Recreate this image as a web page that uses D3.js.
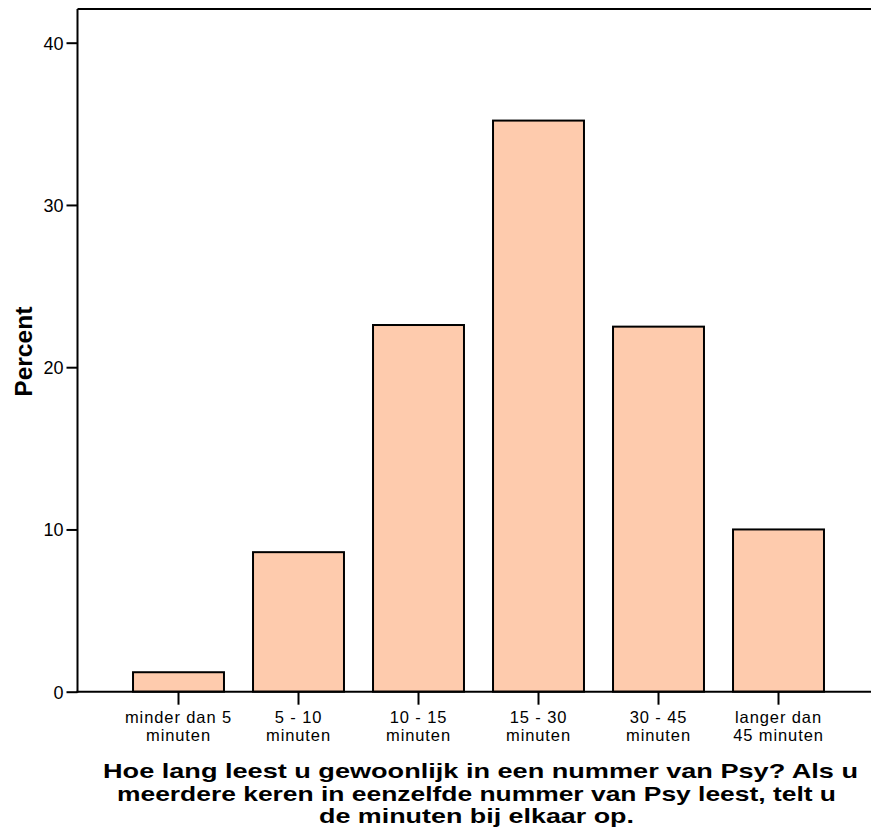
<!DOCTYPE html>
<html><head><meta charset="utf-8">
<script src="https://cdn.jsdelivr.net/npm/d3@7"></script>
<style>body{margin:0;background:#fff}</style>
</head><body>
<svg id="c" width="871" height="832"></svg>
<script>
const categories = ["minder dan 5|minuten","5 - 10|minuten","10 - 15|minuten","15 - 30|minuten","30 - 45|minuten","langer dan|45 minuten"];
const percents = [1.2, 8.6, 22.6, 35.2, 22.5, 10.0];
const yTicks = [0, 10, 20, 30, 40];
const titleLines = ["Hoe lang leest u gewoonlijk in een nummer van Psy? Als u","meerdere keren in eenzelfde nummer van Psy leest, telt u","de minuten bij elkaar op."];
const yLabel = "Percent";

const svg = d3.select("#c");
const font = "'Liberation Sans', Arial, sans-serif";
const pLeft = 77.5, pTop = 9, pBottom = 691.7, pRight = 880;

const x = d3.scaleBand().domain(categories).range([118.5, 838.5]).paddingInner(0.242).paddingOuter(0.121);
const y = d3.scaleLinear().domain([0, 40]).range([pBottom, 42.7]);

// bars
svg.selectAll("rect.bar").data(percents).enter().append("rect")
  .attr("x", (d,i)=>x(categories[i]))
  .attr("y", d=>y(d))
  .attr("width", x.bandwidth())
  .attr("height", d=>y(0)-y(d))
  .attr("fill", "#fecbad").attr("stroke", "#000").attr("stroke-width", 2);

// frame top
svg.append("line").attr("x1", pLeft).attr("x2", pRight).attr("y1", pTop).attr("y2", pTop)
  .attr("stroke", "#000").attr("stroke-width", 2);

// y axis
const ya = svg.append("g").attr("transform", `translate(${pLeft},0)`)
  .call(d3.axisLeft(y).tickValues(yTicks).tickSize(11).tickPadding(3).tickFormat(d3.format("d")));
ya.select(".domain").remove();
ya.append("line").attr("x1",0).attr("x2",0).attr("y1",pTop).attr("y2",pBottom+1).attr("stroke","#000").attr("stroke-width",2);
ya.selectAll(".tick line").attr("stroke-width",2);
ya.selectAll("text").attr("font-family", font).attr("font-size", 18).attr("fill","#000").attr("dy","0.36em");

// x axis
const xa = svg.append("g").attr("transform", `translate(0,${pBottom})`)
  .call(d3.axisBottom(x).tickSize(13).tickFormat(""));
xa.select(".domain").remove();
xa.append("line").attr("x1",pLeft-1).attr("x2",pRight).attr("y1",0).attr("y2",0).attr("stroke","#000").attr("stroke-width",2);
xa.selectAll(".tick line").attr("stroke-width",2);
xa.selectAll(".tick").each(function(d){
  const parts = d.split("|");
  const t = d3.select(this).append("text").attr("fill","#000").attr("font-family",font).attr("font-size",16.5)
    .attr("letter-spacing","0.9").attr("text-anchor","middle");
  parts.forEach((p,i)=>t.append("tspan").attr("x",0).attr("y",31.6 + i*17.7).text(p));
});

// y label
svg.append("text").attr("transform","translate(32,351.7) rotate(-90)")
  .attr("text-anchor","middle").attr("font-family",font).attr("font-weight","bold").attr("font-size",24)
  .attr("textLength",90).attr("lengthAdjust","spacingAndGlyphs").text(yLabel);

// title
const tl = [[103,858,777.7],[117,836,800.5],[319,634,823]];
titleLines.forEach((s,i)=>{
  svg.append("text").attr("x", tl[i][0]).attr("y", tl[i][2])
    .attr("font-family",font).attr("font-weight","bold").attr("font-size",21)
    .attr("textLength", tl[i][1]-tl[i][0]).attr("lengthAdjust","spacingAndGlyphs").text(s);
});
</script>
</body></html>
